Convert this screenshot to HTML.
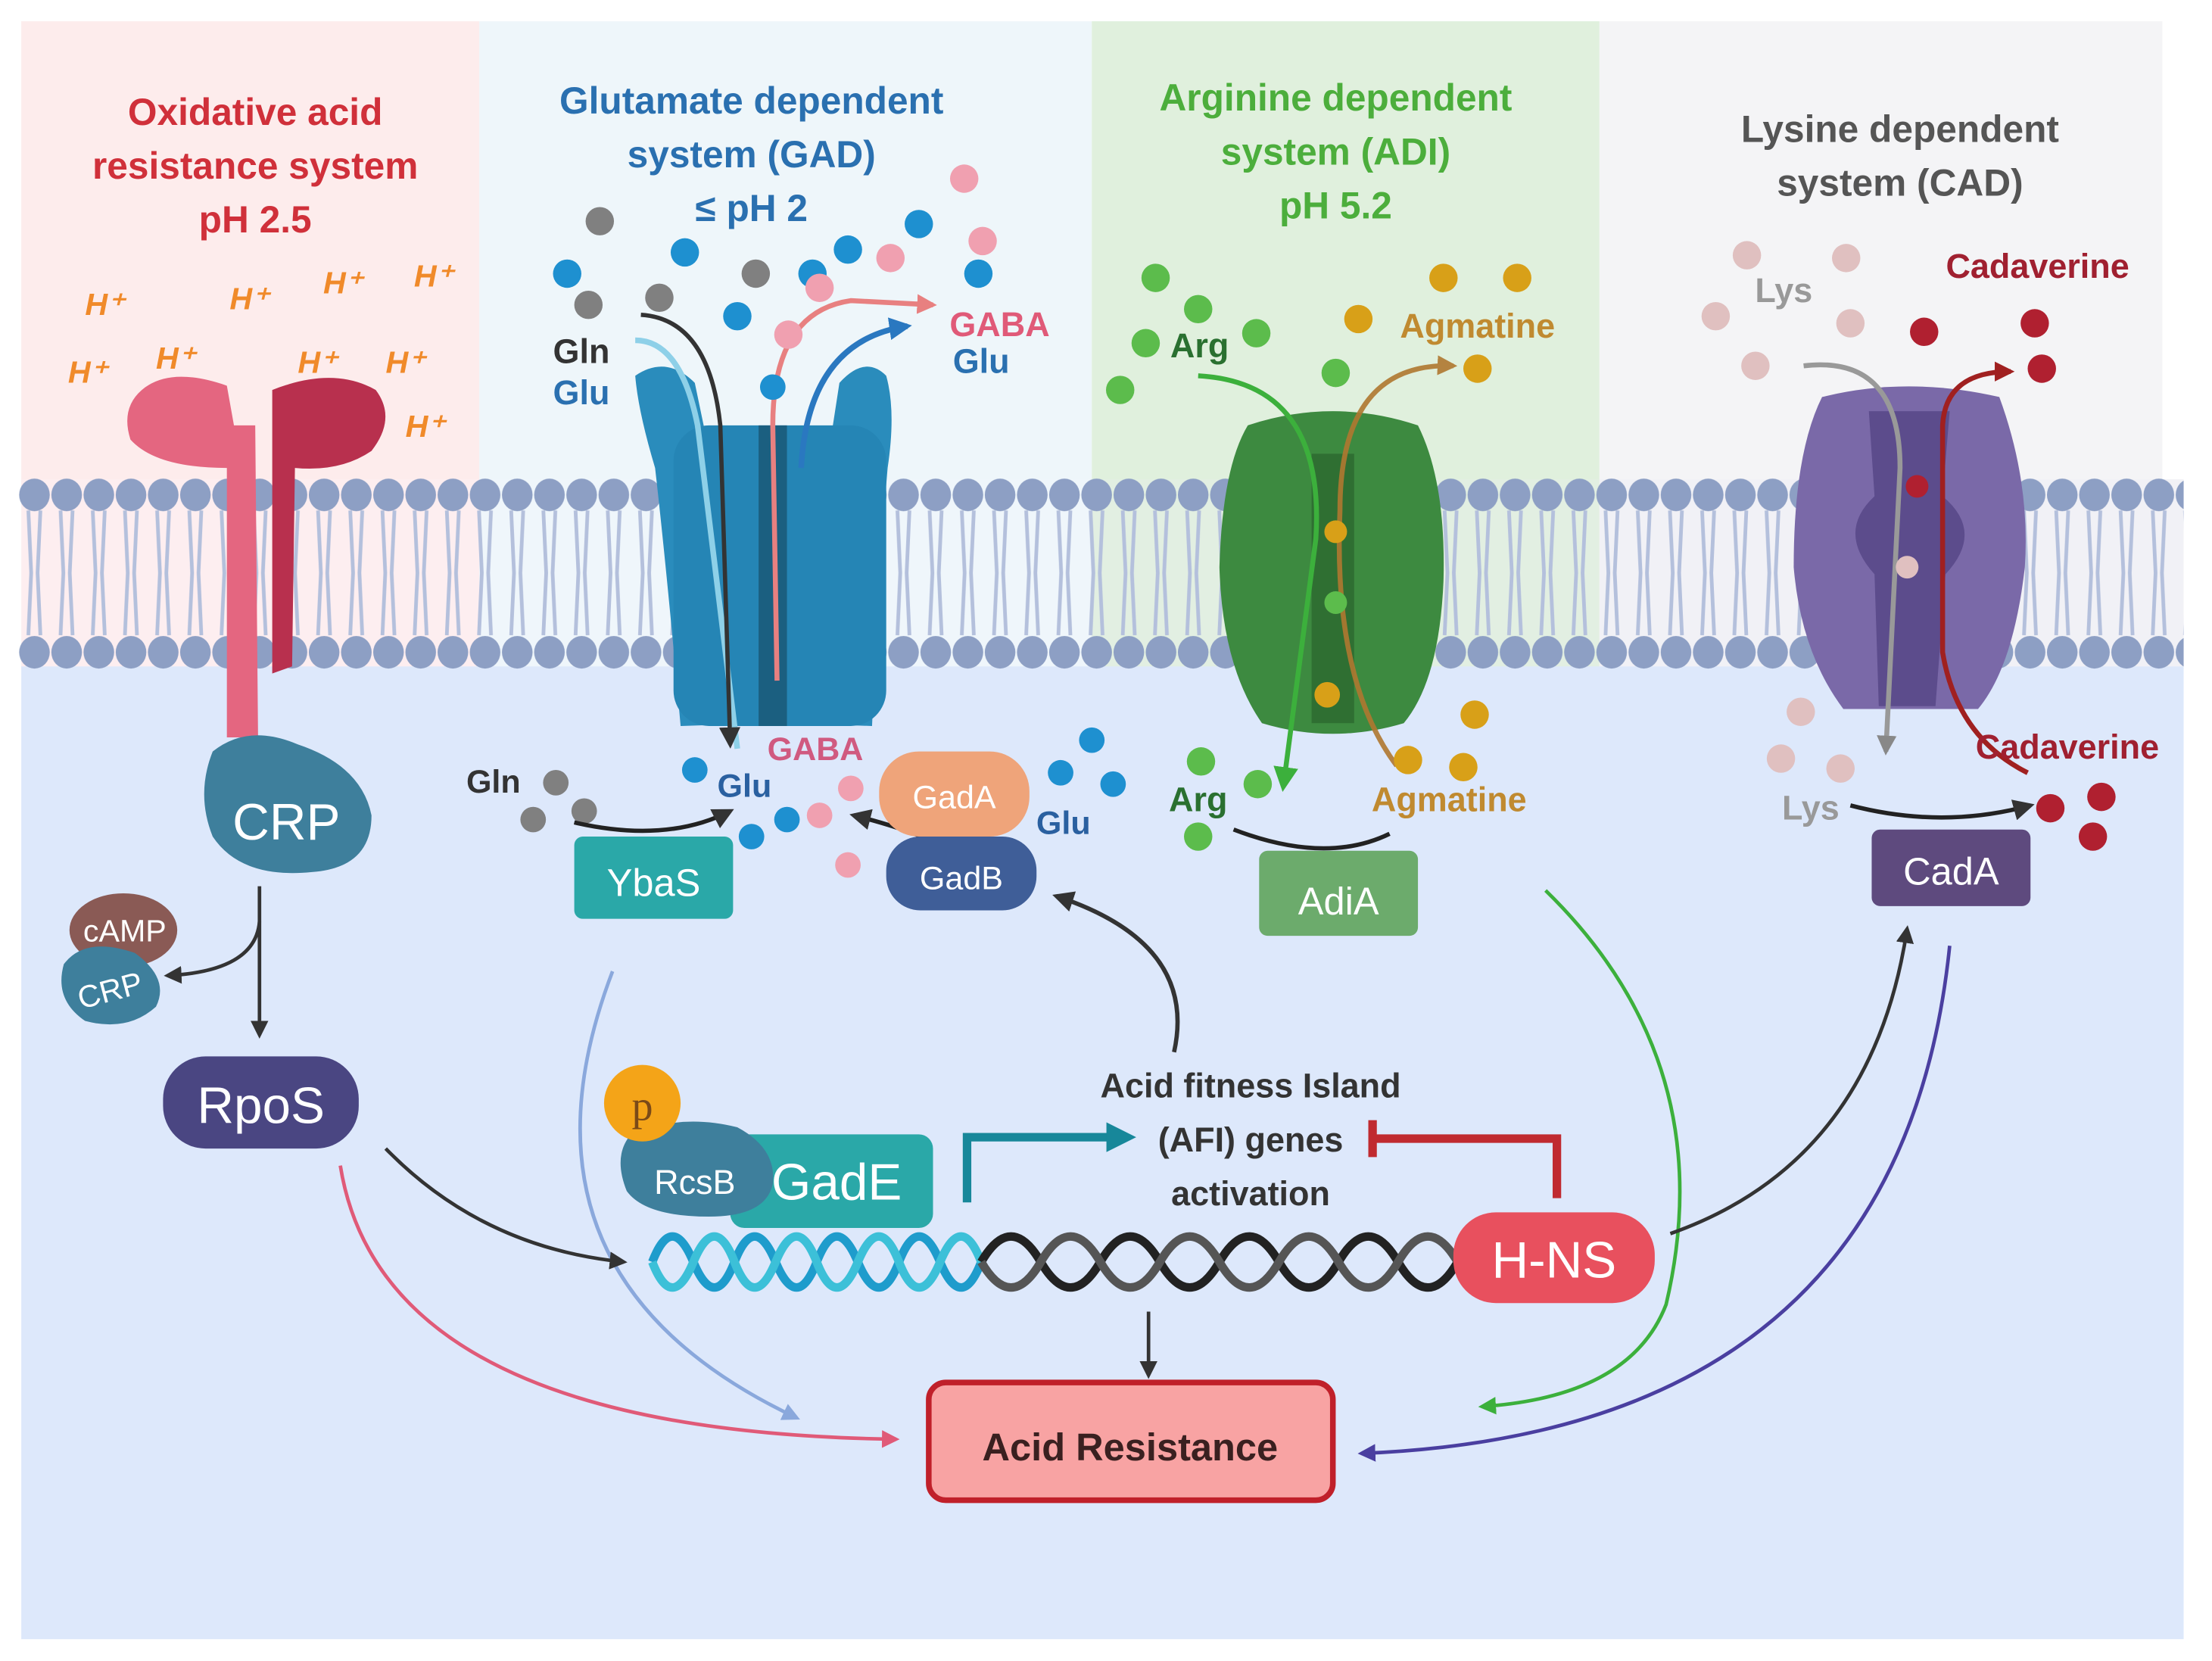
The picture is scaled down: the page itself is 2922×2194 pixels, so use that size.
<!DOCTYPE html>
<html><head><meta charset="utf-8"><style>html,body{margin:0;padding:0;background:#fff}svg{display:block}text{font-family:"Liberation Sans",sans-serif;font-weight:bold}text[font-weight="normal"]{font-weight:normal}</style></head><body>
<svg width="2922" height="2194" viewBox="0 0 1560 1171.4" preserveAspectRatio="none" xmlns="http://www.w3.org/2000/svg">
<defs>
<marker id="ad" viewBox="0 0 10 10" refX="8" refY="5" markerWidth="5" markerHeight="5" orient="auto"><path d="M0,0L10,5L0,10z" fill="#333"/></marker>
<marker id="ap" viewBox="0 0 10 10" refX="8" refY="5" markerWidth="5" markerHeight="5" orient="auto"><path d="M0,0L10,5L0,10z" fill="#e05a78"/></marker>
<marker id="alb" viewBox="0 0 10 10" refX="8" refY="5" markerWidth="5" markerHeight="5" orient="auto"><path d="M0,0L10,5L0,10z" fill="#8aa8dc"/></marker>
<marker id="ag" viewBox="0 0 10 10" refX="8" refY="5" markerWidth="5" markerHeight="5" orient="auto"><path d="M0,0L10,5L0,10z" fill="#3cb03c"/></marker>
<marker id="apu" viewBox="0 0 10 10" refX="8" refY="5" markerWidth="5" markerHeight="5" orient="auto"><path d="M0,0L10,5L0,10z" fill="#4a3fa0"/></marker>
<marker id="at" viewBox="0 0 10 10" refX="7" refY="5" markerWidth="3.5" markerHeight="3.5" orient="auto"><path d="M0,0L10,5L0,10z" fill="#17879a"/></marker>
<marker id="asal" viewBox="0 0 10 10" refX="8" refY="5" markerWidth="4" markerHeight="4" orient="auto"><path d="M0,0L10,5L0,10z" fill="#e88080"/></marker>
<marker id="ab" viewBox="0 0 10 10" refX="8" refY="5" markerWidth="4" markerHeight="4" orient="auto"><path d="M0,0L10,5L0,10z" fill="#2a78c0"/></marker>
<marker id="abr" viewBox="0 0 10 10" refX="8" refY="5" markerWidth="4" markerHeight="4" orient="auto"><path d="M0,0L10,5L0,10z" fill="#b07830"/></marker>
<marker id="agr" viewBox="0 0 10 10" refX="8" refY="5" markerWidth="4" markerHeight="4" orient="auto"><path d="M0,0L10,5L0,10z" fill="#888"/></marker>
<marker id="ar" viewBox="0 0 10 10" refX="8" refY="5" markerWidth="4" markerHeight="4" orient="auto"><path d="M0,0L10,5L0,10z" fill="#a02020"/></marker>
<pattern id="lip" x="13" y="336" width="22.7" height="136" patternUnits="userSpaceOnUse">
<path d="M7,24 L9,68 L7,112 M15.5,24 L13.5,68 L15.5,112" stroke="#b4c0dc" stroke-width="2.6" fill="none"/>
<ellipse cx="11.3" cy="13" rx="10.8" ry="11.5" fill="#8d9fc4"/>
<ellipse cx="11.3" cy="124" rx="10.8" ry="11.5" fill="#8d9fc4"/>
</pattern>
</defs>
<rect x="15" y="15" width="323" height="330" fill="#fdecec"/>
<rect x="338" y="15" width="432" height="330" fill="#eef6fa"/>
<rect x="770" y="15" width="358" height="330" fill="#e0f0dd"/>
<rect x="1128" y="15" width="397" height="330" fill="#f4f4f6"/>
<rect x="15" y="338" width="323" height="134" fill="#fdeef0"/>
<rect x="338" y="338" width="432" height="134" fill="#eff6fb"/>
<rect x="770" y="338" width="358" height="134" fill="#e2efe2"/>
<rect x="1128" y="338" width="412" height="134" fill="#f1f1f6"/>
<rect x="15" y="470" width="1525" height="686" fill="#dde8fb"/>
<rect x="13" y="336" width="1527" height="136" fill="url(#lip)"/>
<g font-size="26.5" text-anchor="middle">
<text x="180" y="88" fill="#d0303a">Oxidative acid</text>
<text x="180" y="126" fill="#d0303a">resistance system</text>
<text x="180" y="164" fill="#d0303a">pH 2.5</text>
<text x="530" y="80" fill="#2a70b0">Glutamate dependent</text>
<text x="530" y="118" fill="#2a70b0">system (GAD)</text>
<text x="530" y="156" fill="#2a70b0">≤ pH 2</text>
<text x="942" y="78" fill="#4cae3c">Arginine dependent</text>
<text x="942" y="116" fill="#4cae3c">system (ADI)</text>
<text x="942" y="154" fill="#4cae3c">pH 5.2</text>
<text x="1340" y="100" fill="#555">Lysine dependent</text>
<text x="1340" y="138" fill="#555">system (CAD)</text>
</g>
<g font-size="22" fill="#f08a2a" font-style="italic">
<text x="60" y="222">H⁺</text><text x="162" y="218">H⁺</text><text x="228" y="207">H⁺</text><text x="292" y="202">H⁺</text>
<text x="48" y="270">H⁺</text><text x="110" y="260">H⁺</text><text x="210" y="263">H⁺</text><text x="272" y="263">H⁺</text><text x="286" y="308">H⁺</text>
</g>
<path d="M100,275 Q120,258 160,272 L165,300 L180,300 L182,520 L160,520 L160,330 Q110,330 92,310 Q85,288 100,275z" fill="#e46680"/>
<path d="M192,275 Q235,258 265,275 Q280,295 262,318 Q240,333 208,330 L206,470 L192,475 z" fill="#b8304e"/>
<path d="M150,530 Q175,510 210,525 Q255,540 262,575 Q262,612 220,615 Q170,620 150,590 Q138,560 150,530z" fill="#3e7f9c"/>
<text x="202" y="592" font-size="36" fill="#fff" font-weight="normal" text-anchor="middle">CRP</text>
<ellipse cx="87" cy="656" rx="38" ry="26" fill="#8a5a55"/>
<text x="88" y="664" font-size="22" fill="#fff" font-weight="normal" text-anchor="middle">cAMP</text>
<path d="M45,680 Q60,660 95,672 Q120,690 110,710 Q90,728 60,720 Q38,705 45,680z" fill="#3e7f9c"/>
<text x="78" y="706" font-size="22" fill="#fff" font-weight="normal" text-anchor="middle" transform="rotate(-15 78 700)">CRP</text>
<path d="M183,625 L183,730" stroke="#333" stroke-width="2.5" fill="none" marker-end="url(#ad)"/>
<path d="M183,650 Q180,685 118,688" stroke="#333" stroke-width="2.5" fill="none" marker-end="url(#ad)"/>
<rect x="115" y="745" width="138" height="65" rx="30" fill="#4a4682"/>
<text x="184" y="792" font-size="36" fill="#fff" font-weight="normal" text-anchor="middle">RpoS</text>
<path d="M448,265 Q470,250 490,270 L540,510 L480,512 Q470,400 462,330 Q450,290 448,265z" fill="#2a8cbc"/>
<path d="M625,265 Q610,250 592,270 L555,510 L615,512 Q620,400 626,330 Q632,290 625,265z" fill="#2a8cbc"/>
<rect x="475" y="300" width="150" height="212" rx="25" fill="#2585b5"/>
<rect x="535" y="300" width="20" height="212" fill="#1b5f80"/>
<path d="M448,240 Q480,240 492,300 L520,528" stroke="#8ed0e8" stroke-width="4" fill="none"/>
<path d="M452,222 Q500,225 508,300 L515,525" stroke="#333" stroke-width="3" fill="none" marker-end="url(#ad)"/>
<path d="M548,480 L545,300 Q545,220 600,212 L658,215" stroke="#e88080" stroke-width="3.5" fill="none" marker-end="url(#asal)"/>
<path d="M565,330 Q570,240 640,230" stroke="#2a78c0" stroke-width="4" fill="none" marker-end="url(#ab)"/>
<text x="410" y="256" font-size="24" fill="#333" text-anchor="middle">Gln</text>
<text x="410" y="285" font-size="24" fill="#2a70b0" text-anchor="middle">Glu</text>
<text x="705" y="237" font-size="24" fill="#e05a78" text-anchor="middle">GABA</text>
<text x="692" y="263" font-size="24" fill="#2a70b0" text-anchor="middle">Glu</text>
<g fill="#1e90d0"><circle cx="400" cy="193" r="10"/><circle cx="483" cy="178" r="10"/><circle cx="520" cy="223" r="10"/><circle cx="573" cy="193" r="10"/><circle cx="598" cy="176" r="10"/><circle cx="648" cy="158" r="10"/><circle cx="690" cy="193" r="10"/><circle cx="545" cy="273" r="9"/><circle cx="490" cy="543" r="9"/><circle cx="530" cy="590" r="9"/><circle cx="555" cy="578" r="9"/><circle cx="748" cy="545" r="9"/><circle cx="770" cy="522" r="9"/><circle cx="785" cy="553" r="9"/></g>
<g fill="#808080"><circle cx="423" cy="156" r="10"/><circle cx="415" cy="215" r="10"/><circle cx="465" cy="210" r="10"/><circle cx="533" cy="193" r="10"/><circle cx="392" cy="552" r="9"/><circle cx="412" cy="572" r="9"/><circle cx="376" cy="578" r="9"/></g>
<g fill="#f0a0b0"><circle cx="680" cy="126" r="10"/><circle cx="693" cy="170" r="10"/><circle cx="628" cy="182" r="10"/><circle cx="578" cy="203" r="10"/><circle cx="556" cy="236" r="10"/><circle cx="600" cy="556" r="9"/><circle cx="578" cy="575" r="9"/><circle cx="598" cy="610" r="9"/></g>
<text x="575" y="536" font-size="23" fill="#d05a80" text-anchor="middle">GABA</text>
<text x="525" y="562" font-size="23" fill="#2a60a0" text-anchor="middle">Glu</text>
<text x="348" y="559" font-size="23" fill="#333" text-anchor="middle">Gln</text>
<text x="750" y="588" font-size="23" fill="#2a60a0" text-anchor="middle">Glu</text>
<path d="M405,580 Q470,595 515,572" stroke="#222" stroke-width="3" fill="none" marker-end="url(#ad)"/>
<path d="M650,590 Q630,582 602,575" stroke="#222" stroke-width="3" fill="none" marker-end="url(#ad)"/>
<rect x="405" y="590" width="112" height="58" rx="6" fill="#2aa8a8"/>
<text x="461" y="632" font-size="27" fill="#fff" font-weight="normal" text-anchor="middle">YbaS</text>
<rect x="620" y="530" width="106" height="60" rx="28" fill="#efa47a"/>
<text x="673" y="570" font-size="23" fill="#fff" font-weight="normal" text-anchor="middle">GadA</text>
<rect x="625" y="590" width="106" height="52" rx="24" fill="#3f5e98"/>
<text x="678" y="627" font-size="23" fill="#fff" font-weight="normal" text-anchor="middle">GadB</text>
<path d="M880,300 Q940,280 1000,300 Q1020,340 1018,410 Q1015,480 990,510 Q940,525 890,510 Q862,470 860,400 Q862,330 880,300z" fill="#3d8a40"/>
<rect x="925" y="320" width="30" height="190" fill="#2f6f32"/>
<path d="M845,265 Q935,270 928,380 L905,555" stroke="#3cb03c" stroke-width="3.5" fill="none" marker-end="url(#ag)"/>
<path d="M985,540 Q940,480 945,360 Q945,255 1025,258" stroke="#b07830" stroke-width="3.5" fill="none" opacity="0.9" marker-end="url(#abr)"/>
<g fill="#5cbc4c"><circle cx="815" cy="196" r="10"/><circle cx="845" cy="218" r="10"/><circle cx="808" cy="242" r="10"/><circle cx="886" cy="235" r="10"/><circle cx="790" cy="275" r="10"/><circle cx="942" cy="263" r="10"/><circle cx="942" cy="425" r="8"/><circle cx="847" cy="537" r="10"/><circle cx="887" cy="553" r="10"/><circle cx="845" cy="590" r="10"/></g>
<g fill="#d8a018"><circle cx="1018" cy="196" r="10"/><circle cx="1070" cy="196" r="10"/><circle cx="958" cy="225" r="10"/><circle cx="1042" cy="260" r="10"/><circle cx="942" cy="375" r="8"/><circle cx="936" cy="490" r="9"/><circle cx="1040" cy="504" r="10"/><circle cx="993" cy="536" r="10"/><circle cx="1032" cy="541" r="10"/></g>
<text x="846" y="252" font-size="24" fill="#2a7030" text-anchor="middle">Arg</text>
<text x="1042" y="238" font-size="24" fill="#c08a30" text-anchor="middle">Agmatine</text>
<text x="845" y="572" font-size="24" fill="#2a7030" text-anchor="middle">Arg</text>
<text x="1022" y="572" font-size="24" fill="#c08a30" text-anchor="middle">Agmatine</text>
<path d="M870,585 Q935,610 980,588" stroke="#222" stroke-width="3" fill="none"/>
<rect x="888" y="600" width="112" height="60" rx="6" fill="#6cab6c"/>
<text x="944" y="645" font-size="27" fill="#fff" font-weight="normal" text-anchor="middle">AdiA</text>
<path d="M1285,280 Q1345,265 1410,280 Q1432,340 1428,400 Q1420,470 1395,500 L1300,500 Q1270,460 1265,400 Q1265,320 1285,280z" fill="#7a69a8"/>
<path d="M1318,290 L1375,290 L1370,350 Q1400,375 1372,405 L1365,498 L1325,498 L1322,405 Q1295,375 1322,350z" fill="#5c4c8c"/>
<path d="M1272,258 Q1340,250 1340,330 L1330,530" stroke="#999" stroke-width="3.5" fill="none" marker-end="url(#agr)"/>
<path d="M1430,545 Q1380,520 1370,460 L1370,300 Q1372,262 1418,262" stroke="#a02020" stroke-width="3.5" fill="none" marker-end="url(#ar)"/>
<g fill="#e0c0c0"><circle cx="1232" cy="180" r="10"/><circle cx="1302" cy="182" r="10"/><circle cx="1210" cy="223" r="10"/><circle cx="1305" cy="228" r="10"/><circle cx="1238" cy="258" r="10"/><circle cx="1345" cy="400" r="8"/><circle cx="1270" cy="502" r="10"/><circle cx="1256" cy="535" r="10"/><circle cx="1298" cy="542" r="10"/></g>
<g fill="#b02030"><circle cx="1357" cy="234" r="10"/><circle cx="1435" cy="228" r="10"/><circle cx="1440" cy="260" r="10"/><circle cx="1352" cy="343" r="8"/><circle cx="1446" cy="570" r="10"/><circle cx="1482" cy="562" r="10"/><circle cx="1476" cy="590" r="10"/></g>
<text x="1258" y="213" font-size="24" fill="#999" text-anchor="middle">Lys</text>
<text x="1437" y="196" font-size="24" fill="#a02030" text-anchor="middle">Cadaverine</text>
<text x="1458" y="535" font-size="24" fill="#a02030" text-anchor="middle">Cadaverine</text>
<text x="1277" y="578" font-size="24" fill="#999" text-anchor="middle">Lys</text>
<path d="M1305,568 Q1370,585 1432,568" stroke="#222" stroke-width="3" fill="none" marker-end="url(#ad)"/>
<rect x="1320" y="585" width="112" height="54" rx="6" fill="#5e4a7e"/>
<text x="1376" y="624" font-size="27" fill="#fff" font-weight="normal" text-anchor="middle">CadA</text>
<path d="M828,742 Q845,665 745,632" stroke="#333" stroke-width="3" fill="none" marker-end="url(#ad)"/>
<path d="M240,822 Q270,1010 632,1015" stroke="#e05a78" stroke-width="2.5" fill="none" marker-end="url(#ap)"/>
<path d="M432,685 Q350,900 562,1000" stroke="#8aa8dc" stroke-width="2.5" fill="none" marker-end="url(#alb)"/>
<path d="M272,810 Q340,880 440,890" stroke="#333" stroke-width="2.5" fill="none" marker-end="url(#ad)"/>
<path d="M810,925 L810,970" stroke="#333" stroke-width="2.5" fill="none" marker-end="url(#ad)"/>
<path d="M1090,628 Q1215,750 1175,920 Q1150,985 1045,992" stroke="#3cb03c" stroke-width="2.5" fill="none" marker-end="url(#ag)"/>
<path d="M1375,667 Q1340,1010 960,1025" stroke="#4a3fa0" stroke-width="2.5" fill="none" marker-end="url(#apu)"/>
<path d="M1178,870 Q1320,820 1345,655" stroke="#333" stroke-width="2.5" fill="none" marker-end="url(#ad)"/>
<g fill="none" stroke-width="6">
<path d="M460,890 q14,-36 29,0 t29,0 t29,0 t29,0 t29,0 t29,0 t29,0 t29,0" stroke="#1e9ccc"/>
<path d="M460,890 q14,36 29,0 t29,0 t29,0 t29,0 t29,0 t29,0 t29,0 t29,0" stroke="#3cc0d8"/>
<path d="M692,890 q21,-36 42,0 t42,0 t42,0 t42,0 t42,0 t42,0 t42,0 t42,0" stroke="#222"/>
<path d="M692,890 q21,36 42,0 t42,0 t42,0 t42,0 t42,0 t42,0 t42,0 t42,0" stroke="#555"/>
</g>
<rect x="1025" y="855" width="142" height="64" rx="30" fill="#e8505e"/>
<text x="1096" y="901" font-size="36" fill="#fff" font-weight="normal" text-anchor="middle">H-NS</text>
<rect x="515" y="800" width="143" height="66" rx="10" fill="#2aa8a8"/>
<text x="590" y="846" font-size="36" fill="#fff" font-weight="normal" text-anchor="middle">GadE</text>
<path d="M445,800 Q480,785 520,795 Q548,810 545,835 Q540,858 500,858 Q455,858 442,840 Q432,815 445,800z" fill="#3e7f9c"/>
<text x="490" y="842" font-size="24" fill="#fff" font-weight="normal" text-anchor="middle">RcsB</text>
<circle cx="453" cy="778" r="27" fill="#f4a418"/>
<text x="453" y="790" font-size="30" fill="#7a4a18" font-weight="normal" text-anchor="middle" style="font-family:'Liberation Serif',serif">p</text>
<path d="M682,848 L682,802 L795,802" stroke="#17879a" stroke-width="6" fill="none" marker-end="url(#at)"/>
<path d="M1098,845 L1098,803 L968,803 M968,790 L968,816" stroke="#c02a30" stroke-width="6" fill="none"/>
<g font-size="24" fill="#333" text-anchor="middle"><text x="882" y="774">Acid fitness Island</text><text x="882" y="812">(AFI) genes</text><text x="882" y="850">activation</text></g>
<rect x="655" y="975" width="285" height="83" rx="12" fill="#f8a3a3" stroke="#c0202a" stroke-width="4"/>
<text x="797" y="1030" font-size="27" fill="#3a2020" text-anchor="middle">Acid Resistance</text>
</svg>
</body></html>
